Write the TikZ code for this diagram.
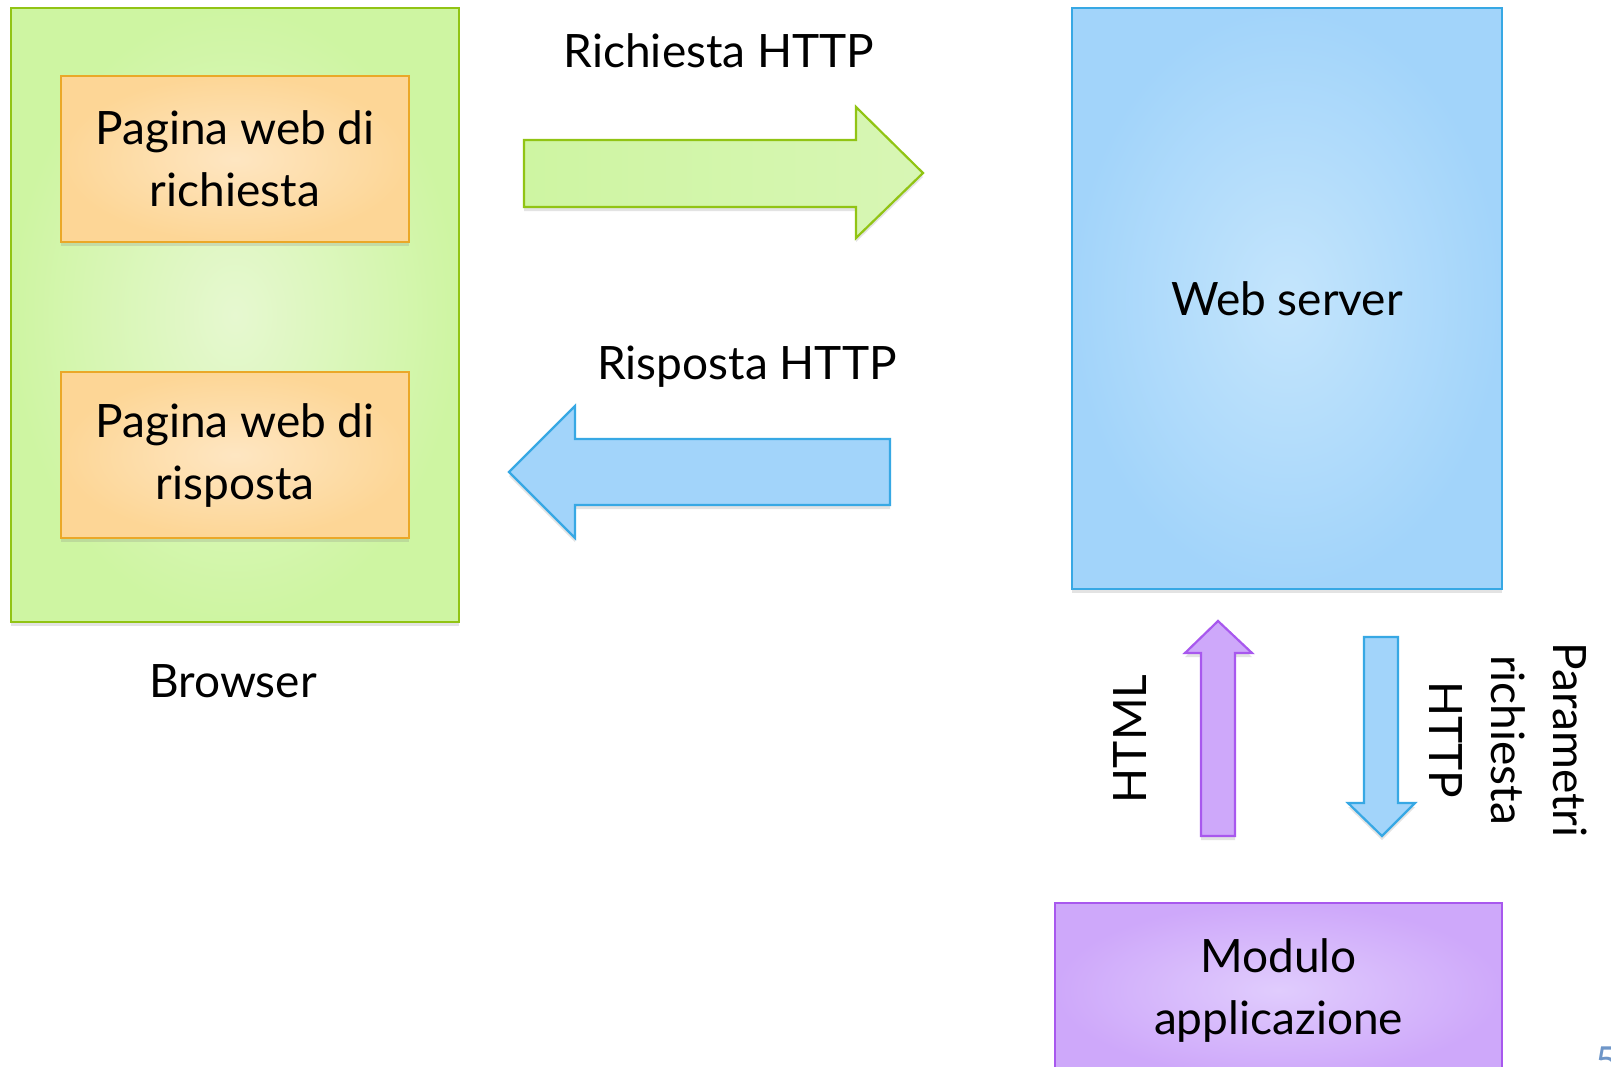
\documentclass[tikz,border=0pt]{standalone}
\usepackage{fontspec}
\setmainfont{Lato}
\usetikzlibrary{shadows}
\definecolor{gOut}{RGB}{206,245,162}
\definecolor{gIn}{RGB}{230,248,208}
\definecolor{gLine}{RGB}{145,196,20}
\definecolor{oOut}{RGB}{253,214,150}
\definecolor{oIn}{RGB}{254,230,194}
\definecolor{oLine}{RGB}{234,168,40}
\definecolor{bOut}{RGB}{162,212,250}
\definecolor{bIn}{RGB}{196,229,252}
\definecolor{bLine}{RGB}{55,168,228}
\definecolor{pOut}{RGB}{206,168,250}
\definecolor{pIn}{RGB}{224,204,253}
\definecolor{pLine}{RGB}{168,88,238}
\definecolor{pageNum}{RGB}{110,150,200}
\begin{document}
\begin{tikzpicture}[x=1pt,y=-1pt,
  lbl/.style={font=\fontsize{46}{62}\selectfont, align=center, inner sep=0pt},
  shade/.style={drop shadow={shadow xshift=0pt, shadow yshift=-4pt, opacity=0.22}},
  box/.style={shade, draw, line width=2.2pt, inner sep=0pt, align=center,
    font=\fontsize{46}{62}\selectfont},
  greenbox/.style={box, draw=gLine, inner color=gIn, outer color=gOut},
  orangebox/.style={box, draw=oLine, inner color=oIn, outer color=oOut},
  bluebox/.style={box, draw=bLine, inner color=bIn, outer color=bOut},
  purplebox/.style={box, draw=pLine, inner color=pIn, outer color=pOut},
  blockarrow/.style={shade, line width=2.2pt, line join=miter}
]
\useasboundingbox (0,0) rectangle (1611,1066);
\clip (0,0) rectangle (1611,1066);
\fill[white] (0,0) rectangle (1611,1066);

% browser with its two pages
\node[greenbox, minimum width=448pt, minimum height=614pt] (browser) at (235,315) {};
\node[orangebox, minimum width=348pt, minimum height=166pt] (req) at (235,159) {Pagina web di\\richiesta};
\node[orangebox, minimum width=348pt, minimum height=166pt] (resp) at (235,455) {Pagina web di\\risposta};
\node[lbl] (browserlbl) at (233,681) {Browser};

% server side
\node[bluebox, minimum width=430pt, minimum height=581pt] (server) at (1287,298.5) {Web server};
\node[purplebox, minimum width=447pt, minimum height=174pt] (modulo) at (1278.5,990) {Modulo\\applicazione};

% request arrow
\draw[blockarrow, draw=gLine, left color=gOut, middle color=gIn, right color=gOut!60!gIn]
  (524,140) -- (856,140) -- (856,107) -- (923,173) -- (856,238) -- (856,207) -- (524,207) -- cycle;
\node[lbl] (reqlbl) at (719,51) {Richiesta HTTP};

% response arrow
\draw[blockarrow, draw=bLine, left color=bOut, middle color=bIn, right color=bOut]
  (890,439) -- (575,439) -- (575,406) -- (509,472) -- (575,538) -- (575,505) -- (890,505) -- cycle;
\node[lbl] (resplbl) at (747,367) {Risposta HTTP};

% HTML back to the server
\draw[blockarrow, draw=pLine, top color=pOut, middle color=pIn, bottom color=pOut]
  (1201,836) -- (1201,653) -- (1185,653) -- (1218,621) -- (1252,653) -- (1235,653) -- (1235,836) -- cycle;
\node[lbl, rotate=90] (htmllbl) at (1130,739) {HTML};

% request parameters to the module
\draw[blockarrow, draw=bLine, top color=bOut, middle color=bIn, bottom color=bOut]
  (1364,637) -- (1398,637) -- (1398,803) -- (1415,803) -- (1382,836) -- (1348,803) -- (1364,803) -- cycle;
\node[lbl, rotate=-90] (paramlbl) at (1508,740) {Parametri\\richiesta\\HTTP};

% slide number
\node[inner sep=0pt, anchor=north west, text=pageNum, font=\fontsize{40}{48}\selectfont] (pagenum) at (1595,1047) {5};
\end{tikzpicture}
\end{document}
